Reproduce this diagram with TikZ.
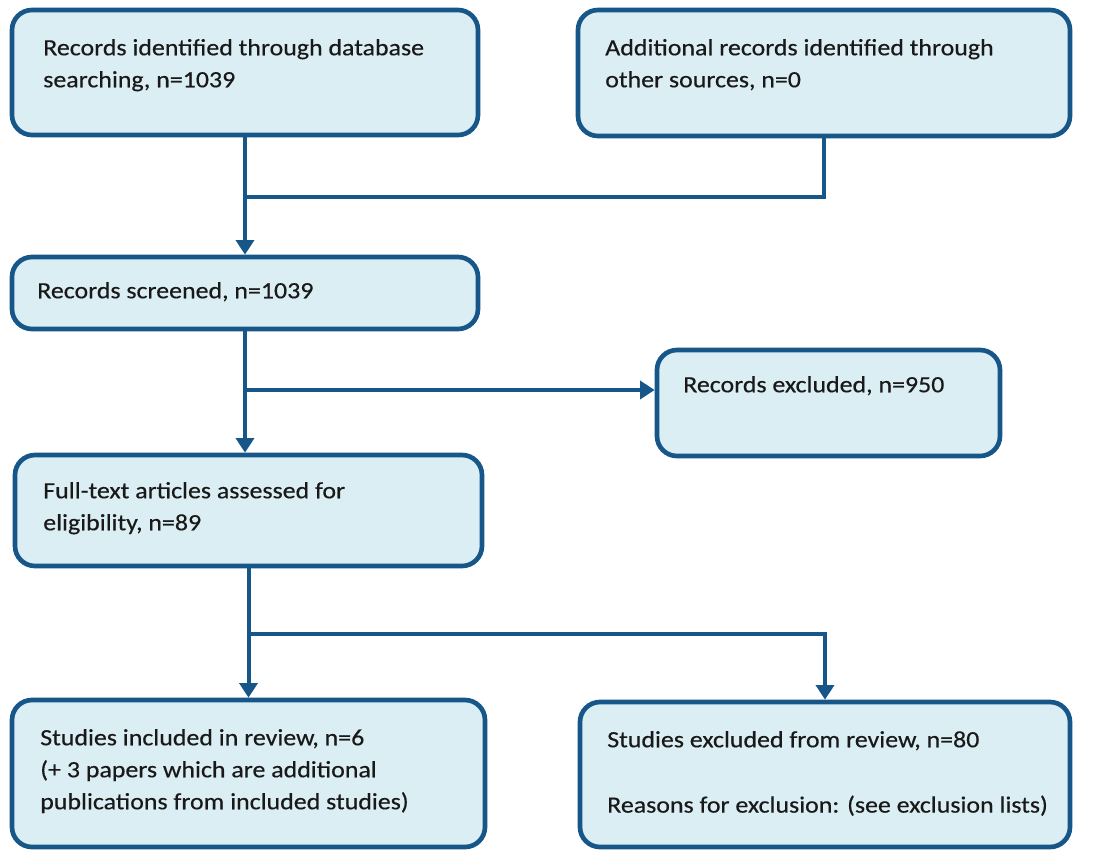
\documentclass[tikz,border=0pt]{standalone}
\usepackage{fontspec}
\setmainfont{Carlito}[FakeStretch=1.11,FakeBold=0.4]
\usetikzlibrary{arrows.meta,calc}
\definecolor{bord}{RGB}{22,86,136}
\definecolor{fillc}{RGB}{219,238,244}
\definecolor{txtc}{RGB}{25,25,25}
\newcommand{\st}{\rule{0pt}{15pt}}
\begin{document}
\begin{tikzpicture}[x=0.75pt,y=-0.75pt,
 box/.style={draw=bord, fill=fillc, line width=3.5pt, rounded corners=15pt, inner sep=0pt},
 lbl/.style={anchor=north west, inner sep=0pt, align=left, text=txtc, font=\fontsize{17.5}{24}\selectfont},
 conn/.style={draw=bord, line width=3pt},
 arr/.style={conn, -{Triangle[width=13.5pt,length=11pt]}}]
\useasboundingbox (0,0) rectangle (1100,850);
\node[box, minimum width=349.5pt, minimum height=93.75pt] (b1) at (245,72.5) {};
\node[box, minimum width=369pt, minimum height=94.5pt] (b2) at (824,73) {};
\node[box, minimum width=349.5pt, minimum height=54pt] (b3) at (245,293) {};
\node[box, minimum width=257.25pt, minimum height=79.5pt] (bex) at (828.5,403) {};
\node[box, minimum width=350.25pt, minimum height=83.25pt] (b4) at (248.5,510.5) {};
\node[box, minimum width=354.75pt, minimum height=110.25pt] (b5) at (248.5,773.5) {};
\node[box, minimum width=367.5pt, minimum height=108.75pt] (b6) at (825,774.5) {};

\node[lbl] (t1) at (43,35) {\st Records identified through database\\searching, n=1039};
\node[lbl] (t2) at (605,35) {\st Additional records identified through\\other sources, n=0};
\node[lbl] (t3) at (37,278) {\st Records screened, n=1039};
\node[lbl] (tex) at (683,372) {\st Records excluded, n=950};
\node[lbl] (t4) at (43,478) {\st Full-text articles assessed for\\eligibility, n=89};
\node[lbl] (t5) at (40,725) {\st Studies included in review, n=6\\(+ 3 papers which are additional\\publications from included studies)};
\node[lbl] (t6) at (607,727) {\st Studies excluded from review, n=80\\[25pt]Reasons for exclusion: (see exclusion lists)};

\coordinate (j1) at (245,197);
\coordinate (j2) at (245,390);
\coordinate (j3) at (248.5,634);
\draw[arr] (b1.south) -- (b3.north);
\draw[conn] (b2.south) |- (j1);
\draw[arr] (b3.south) -- (b3.south |- b4.north);
\draw[arr] (j2) -- (j2 -| bex.west);
\draw[arr] (b4.south) -- (b5.north);
\draw[arr] (j3) -| (b6.north);
\end{tikzpicture}
\end{document}
